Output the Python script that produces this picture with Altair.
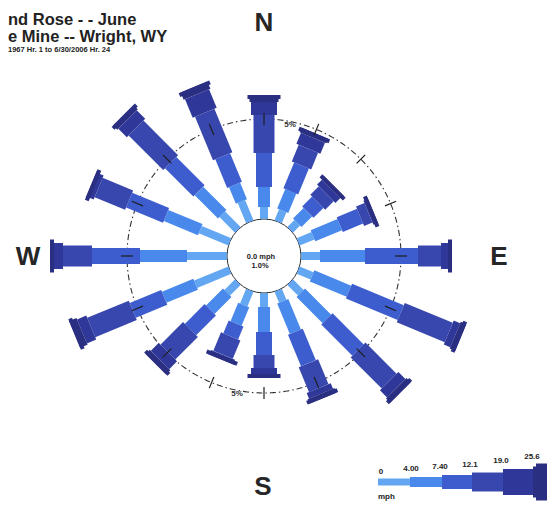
import altair as alt
import pandas as pd
import numpy as np

# ---------------- data ----------------
directions = ["N", "NNE", "NE", "ENE", "E", "ESE", "SE", "SSE",
              "S", "SSW", "SW", "WSW", "W", "WNW", "NW", "NNW"]
speed_bins = ["0-4.00", "4.00-7.40", "7.40-12.1", "12.1-19.0", "19.0-25.6", ">25.6"]
legend_labels = ["0", "4.00", "7.40", "12.1", "19.0", "25.6"]

# percent frequency per direction, one list per wind-speed class (mph)
pct_0_4 = [0.60, 0.60, 0.50, 0.80, 0.95, 0.75, 0.75, 0.60, 0.70, 0.80, 0.75, 1.85, 2.00, 1.60, 1.10, 1.10]
pct_4_7 = [1.00, 1.05, 0.75, 1.45, 2.25, 2.00, 1.85, 1.65, 1.25, 1.00, 1.20, 1.70, 2.35, 1.85, 1.65, 0.90]
pct_7_12 = [1.70, 1.40, 0.70, 1.10, 2.65, 2.80, 2.20, 1.70, 1.15, 0.70, 1.40, 1.70, 2.40, 2.00, 2.00, 1.55]
pct_12_19 = [1.90, 0.90, 0.60, 0.45, 1.15, 2.60, 2.20, 1.35, 0.65, 1.00, 1.60, 2.25, 1.45, 1.65, 2.45, 2.35]
pct_19_25 = [0.65, 0.60, 0.35, 0.15, 0.40, 0.35, 0.50, 0.30, 0.35, 0.10, 0.55, 0.50, 0.50, 0.30, 0.60, 1.00]
pct_25p = [0.35, 0.25, 0.20, 0.10, 0.15, 0.30, 0.30, 0.25, 0.15, 0.15, 0.30, 0.40, 0.15, 0.10, 0.30, 0.40]
series = [pct_0_4, pct_4_7, pct_7_12, pct_12_19, pct_19_25, pct_25p]

calm_text = ["0.0 mph", "1.0%"]
title_lines = ["nd Rose - - June", "e Mine -- Wright, WY", "1967 Hr. 1 to 6/30/2006 Hr. 24"]

# ---------------- layout / style ----------------
W, H = 539, 494
CX, CY = 256, 248        # rose centre in chart pixels
PPU = 20.0               # pixels per 1 %
HOLE = 1.85              # inner circle radius (in % units)
RING = 5.0               # dashed reference ring (%)

colors = ["#63a7f2", "#4a89ec", "#3d5dcf", "#3847ae", "#2f3898", "#2a2f82"]
widths = [8, 12, 16, 21, 26, 29]
CAP_W = 33
FONT = "Liberation Sans"


def ux(px):
    return (px - CX) / PPU


def uy(py):
    return (CY - py) / PPU


xs = alt.Scale(domain=[ux(0), ux(W)], nice=False, zero=False)
ys = alt.Scale(domain=[uy(H), uy(0)], nice=False, zero=False)


def X(f):
    return alt.X(f, type="quantitative", scale=xs, axis=None)


def Y(f):
    return alt.Y(f, type="quantitative", scale=ys, axis=None)


# ---------------- petals ----------------
seg_rows, cap_rows, tick_rows = [], [], []
for i, d in enumerate(directions):
    th = np.deg2rad(i * 22.5)
    s, c = np.sin(th), np.cos(th)
    cum = HOLE
    for j in range(len(speed_bins)):
        r0, r1 = cum, cum + series[j][i]
        seg_rows.append(dict(dir=d, bin=speed_bins[j], x=r0 * s, y=r0 * c,
                             x2=r1 * s, y2=r1 * c, w=widths[j], col=colors[j]))
        cum = r1
    cap_rows.append(dict(dir=d, x=(cum - 0.2) * s, y=(cum - 0.2) * c, x2=cum * s, y2=cum * c))
    ra, rb = HOLE + RING - 0.3, HOLE + RING + 0.3
    tick_rows.append(dict(dir=d, x=ra * s, y=ra * c, x2=rb * s, y2=rb * c))

seg_df = pd.DataFrame(seg_rows)
cap_df = pd.DataFrame(cap_rows)
tick_df = pd.DataFrame(tick_rows)

segments = alt.Chart(seg_df).mark_rule(strokeCap="butt").encode(
    x=X("x"), y=Y("y"), x2="x2", y2="y2",
    strokeWidth=alt.StrokeWidth("w:Q", scale=None),
    color=alt.Color("col:N", scale=None),
)
caps = alt.Chart(cap_df).mark_rule(strokeCap="butt", strokeWidth=CAP_W, color=colors[-1]).encode(
    x=X("x"), y=Y("y"), x2="x2", y2="y2")
ticks = alt.Chart(tick_df).mark_rule(strokeWidth=1.2, color="#1e1e1e").encode(
    x=X("x"), y=Y("y"), x2="x2", y2="y2")

ring = alt.Chart(alt.sequence(0, 361, 1, as_="a")).transform_calculate(
    x=f"{HOLE + RING}*sin(datum.a*PI/180)",
    y=f"{HOLE + RING}*cos(datum.a*PI/180)",
).mark_line(color="#333333", strokeWidth=1.1, strokeDash=[6, 3, 1.5, 3]).encode(
    x=X("x"), y=Y("y"), order="a:Q")

hole = alt.Chart(pd.DataFrame({"x": [0.0], "y": [0.0]})).mark_point(
    shape="circle", filled=True, fill="white", stroke="#333333", strokeWidth=1,
    size=(2 * HOLE * PPU) ** 2, opacity=1).encode(x=X("x"), y=Y("y"))

calm = alt.Chart(pd.DataFrame({"t": calm_text, "x": [ux(253), ux(252)], "y": [uy(249), uy(258)]})).mark_text(
    font=FONT, fontWeight="bold", fontSize=7.5, color="#222222", align="center").encode(
    x=X("x"), y=Y("y"), text="t:N")

ring_lbl = alt.Chart(pd.DataFrame({"t": ["5%", "5%"], "x": [ux(282), ux(229)], "y": [uy(117), uy(386)]})).mark_text(
    font=FONT, fontWeight="bold", fontSize=8, color="#333333", align="center").encode(
    x=X("x"), y=Y("y"), text="t:N")

compass = alt.Chart(pd.DataFrame({"t": ["N", "E", "S", "W"],
                                  "x": [ux(256), ux(491), ux(255), ux(20)],
                                  "y": [uy(15), uy(249), uy(479), uy(249)]})).mark_text(
    font=FONT, fontWeight="bold", fontSize=26, color="#262626", align="center", baseline="middle").encode(
    x=X("x"), y=Y("y"), text="t:N")

title = alt.Chart(pd.DataFrame({"t": title_lines,
                                "x": [ux(0), ux(0), ux(0)],
                                "y": [uy(12), uy(29), uy(42)],
                                "s": [16.5, 16.5, 7.5]})).mark_text(
    font=FONT, fontWeight="bold", color="#222222", align="left").encode(
    x=X("x"), y=Y("y"), text="t:N", size=alt.Size("s:Q", scale=None))

# ---------------- legend ----------------
leg_start = [370, 402, 434, 464, 495, 525]
leg_end = leg_start[1:] + [539]
leg_w = [7, 10, 14, 19, 26, 31]
LEG_Y = 474
leg_df = pd.DataFrame({
    "bin": speed_bins,
    "x": [ux(v) for v in leg_start], "x2": [ux(v) for v in leg_end],
    "y": [uy(LEG_Y)] * 6, "w": leg_w, "col": colors})
leg_bars = alt.Chart(leg_df).mark_rule(strokeCap="butt").encode(
    x=X("x"), x2="x2", y=Y("y"),
    strokeWidth=alt.StrokeWidth("w:Q", scale=None), color=alt.Color("col:N", scale=None))
leg_cap = alt.Chart(pd.DataFrame({"x": [ux(528)], "x2": [ux(539)], "y": [uy(LEG_Y)]})).mark_rule(
    strokeCap="butt", strokeWidth=37, color=colors[-1]).encode(x=X("x"), x2="x2", y=Y("y"))

leg_lbl_df = pd.DataFrame({
    "t": legend_labels,
    "x": [ux(v) for v in [373, 403, 432, 462, 493, 524]],
    "y": [uy(v) for v in [464, 461, 459, 457, 453, 449]]})
leg_lbls = alt.Chart(leg_lbl_df).mark_text(font=FONT, fontWeight="bold", fontSize=8, color="#222222",
                                            align="center").encode(x=X("x"), y=Y("y"), text="t:N")
mph = alt.Chart(pd.DataFrame({"t": ["mph"], "x": [ux(370)], "y": [uy(489)]})).mark_text(
    font=FONT, fontWeight="bold", fontSize=8, color="#222222", align="left").encode(
    x=X("x"), y=Y("y"), text="t:N")

chart = alt.layer(
    ring, hole, segments, caps, ticks, calm, ring_lbl, compass, title,
    leg_bars, leg_cap, leg_lbls, mph
).properties(
    width=W, height=H, padding=0, autosize=alt.AutoSizeParams(type="none"), background="white"
).configure_view(stroke=None)

chart.save("out.html", embed_options={"renderer": "svg", "actions": False})
